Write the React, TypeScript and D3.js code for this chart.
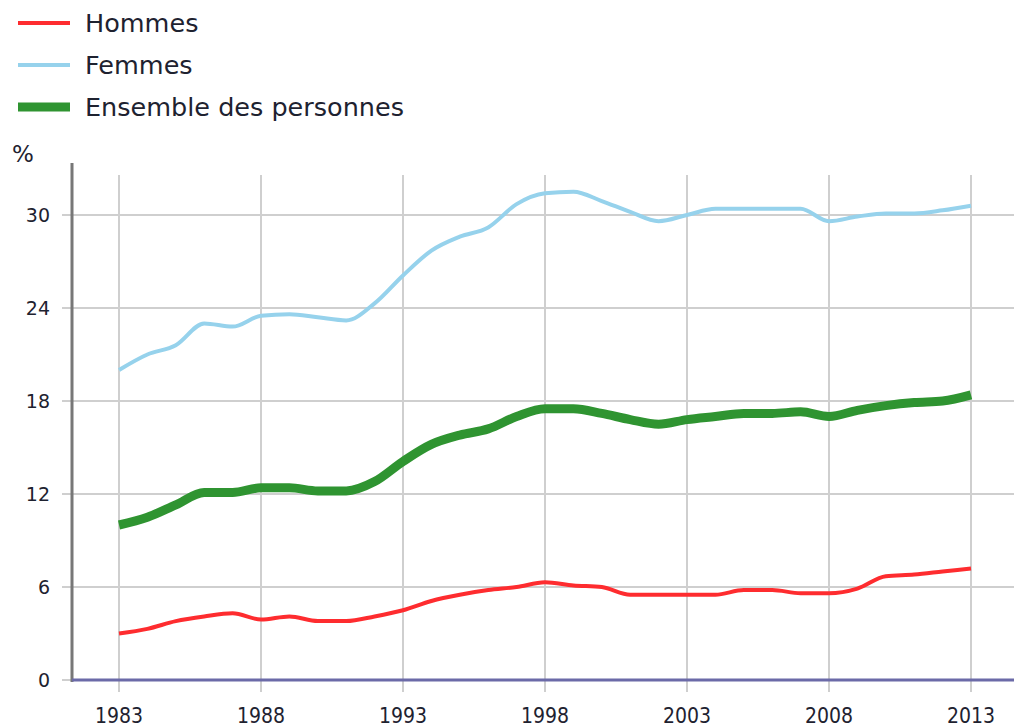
import { FC, useEffect, useRef } from 'react';
import * as d3 from 'd3';

const years = d3.range(1983, 2014);

const hommes = [
  3.0, 3.3, 3.8, 4.1, 4.3, 3.9, 4.1, 3.8, 3.8, 4.1, 4.5, 5.1, 5.5, 5.8, 6.0, 6.3,
  6.1, 6.0, 5.5, 5.5, 5.5, 5.5, 5.8, 5.8, 5.6, 5.6, 5.9, 6.7, 6.8, 7.0, 7.2,
];
const femmes = [
  20.0, 21.0, 21.6, 23.0, 22.8, 23.5, 23.6, 23.4, 23.2, 24.3, 26.1, 27.7, 28.6, 29.2,
  30.7, 31.4, 31.5, 30.9, 30.2, 29.6, 30.0, 30.4, 30.4, 30.4, 30.4, 29.6, 29.9, 30.1,
  30.1, 30.3, 30.6,
];
const ensemble = [
  10.0, 10.5, 11.3, 12.1, 12.1, 12.4, 12.4, 12.2, 12.2, 12.8, 14.1, 15.2, 15.8, 16.2,
  17.0, 17.5, 17.5, 17.2, 16.8, 16.5, 16.8, 17.0, 17.2, 17.2, 17.3, 17.0, 17.4, 17.7,
  17.9, 18.0, 18.4,
];

const yTicks = [0, 6, 12, 18, 24, 30];
const xTicks = [1983, 1988, 1993, 1998, 2003, 2008, 2013];

const series = [
  { name: 'Hommes', values: hommes, color: '#fe2c2f', width: 4 },
  { name: 'Femmes', values: femmes, color: '#96d2ec', width: 4 },
  { name: 'Ensemble des personnes', values: ensemble, color: '#2f9431', width: 9 },
];

const WIDTH = 1014;
const HEIGHT = 728;

const App: FC = () => {
  const svgRef = useRef<SVGSVGElement>(null);

  useEffect(() => {
    if (!svgRef.current) return;
    const svg = d3.select(svgRef.current);
    svg.selectAll('*').remove();

    const xScale = d3.scaleLinear().domain([1983, 2013]).range([119, 971]);
    const yScale = d3.scaleLinear().domain([0, 30]).range([680, 215]);

    // grid
    const grid = svg.append('g');
    grid
      .selectAll('.hgrid')
      .data(yTicks)
      .join('line')
      .attr('x1', 62)
      .attr('x2', WIDTH)
      .attr('y1', (d) => yScale(d))
      .attr('y2', (d) => yScale(d))
      .attr('stroke', '#cfcfcf')
      .attr('stroke-width', 2);
    grid
      .selectAll('.vgrid')
      .data(xTicks)
      .join('line')
      .attr('x1', (d) => xScale(d))
      .attr('x2', (d) => xScale(d))
      .attr('y1', 175)
      .attr('y2', 692)
      .attr('stroke', '#cfcfcf')
      .attr('stroke-width', 2);

    // axes lines
    svg
      .append('line')
      .attr('x1', 72)
      .attr('x2', 72)
      .attr('y1', 163)
      .attr('y2', 682)
      .attr('stroke', '#777')
      .attr('stroke-width', 3);
    svg
      .append('line')
      .attr('x1', 72)
      .attr('x2', WIDTH)
      .attr('y1', yScale(0))
      .attr('y2', yScale(0))
      .attr('stroke', '#6b6aa8')
      .attr('stroke-width', 3);

    // tick labels
    svg
      .selectAll('.ylab')
      .data(yTicks)
      .join('text')
      .attr('x', 50)
      .attr('y', (d) => yScale(d) + 7)
      .attr('text-anchor', 'end')
      .attr('font-family', '"DejaVu Sans", Verdana, sans-serif')
      .attr('font-size', 19)
      .attr('fill', '#1e2230')
      .text((d) => d);
    svg
      .selectAll('.xlab')
      .data(xTicks)
      .join('text')
      .attr('x', (d) => xScale(d))
      .attr('y', 723)
      .attr('text-anchor', 'middle')
      .attr('font-family', '"DejaVu Sans Condensed", "DejaVu Sans", sans-serif')
      .attr('font-size', 21)
      .attr('fill', '#1e2230')
      .text((d) => d);

    svg
      .append('text')
      .attr('x', 12)
      .attr('y', 162)
      .attr('font-family', '"DejaVu Sans", Verdana, sans-serif')
      .attr('font-size', 23)
      .attr('fill', '#1e2230')
      .text('%');

    // lines
    const line = d3
      .line<number>()
      .x((_, i) => xScale(years[i]))
      .y((d) => yScale(d))
      .curve(d3.curveMonotoneX);

    svg
      .selectAll('.series')
      .data(series)
      .join('path')
      .attr('d', (s) => line(s.values))
      .attr('fill', 'none')
      .attr('stroke', (s) => s.color)
      .attr('stroke-width', (s) => s.width)
      .attr('stroke-linejoin', 'round');

    // legend
    const legend = svg
      .selectAll('.legend')
      .data(series)
      .join('g')
      .attr('transform', (_, i) => `translate(0, ${23 + i * 42})`);
    legend
      .append('line')
      .attr('x1', 18)
      .attr('x2', 70)
      .attr('y1', 0)
      .attr('y2', 0)
      .attr('stroke', (s) => s.color)
      .attr('stroke-width', (s) => (s.width > 5 ? 9 : 4));
    legend
      .append('text')
      .attr('x', 85)
      .attr('y', 9)
      .attr('font-family', '"DejaVu Sans", Verdana, sans-serif')
      .attr('font-size', 25.5)
      .attr('fill', '#1e2230')
      .text((s) => s.name);
  }, []);

  return (
    <svg
      ref={svgRef}
      width={WIDTH}
      height={HEIGHT}
      style={{ position: 'absolute', left: 0, top: 0, background: '#fff' }}
    />
  );
};

export default App;
